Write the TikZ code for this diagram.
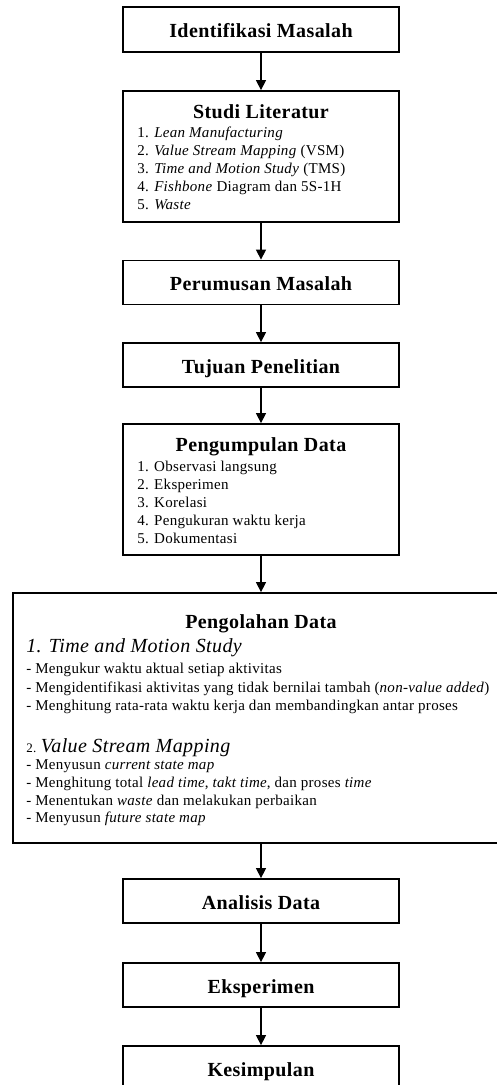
\documentclass[tikz,border=0pt]{standalone}
\usepackage{fontspec}
\setmainfont{Liberation Serif}[LetterSpace=2]
\usetikzlibrary{arrows.meta, positioning, calc}
\tikzset{
  stage/.style={draw, line width=1.8pt, minimum width=276pt, inner sep=0pt,
    font=\fontsize{20}{24}\selectfont\bfseries, text height=16pt, text depth=0pt},
  stagehead/.style={inner sep=0pt, font=\fontsize{20}{24}\selectfont\bfseries},
  stagelist/.style={inner sep=0pt, align=left, font=\fontsize{15}{18}\selectfont},
  flowarrow/.style={-{Triangle[length=10pt,width=10pt]}, line width=1.4pt},
}
\newcommand{\stagebox}[4]{%
  \node[stage, minimum height=#3] (#1) at (261pt,-#2) {#4};}

\begin{document}
\begin{tikzpicture}
  \useasboundingbox (0,0) rectangle (497pt,-1085pt);
  \fill[white] (0,0) rectangle (497pt,-1085pt);
  \clip (0,0) rectangle (497pt,-1085pt);
  \stagebox{idn}{29.5pt}{45pt}{Identifikasi Masalah}
  \stagebox{studi}{156.5pt}{131pt}{}
  \node[stagehead, anchor=base] (studiT) at ([yshift=-28.5pt]studi.north) {Studi Literatur};
  \node[stagelist, anchor=north west] (studiL) at ([xshift=15pt,yshift=-37pt]studi.north west)
    {1. \textit{Lean Manufacturing}\\
     2. \textit{Value Stream Mapping} (VSM)\\
     3. \textit{Time and Motion Study} (TMS)\\
     4. \textit{Fishbone} Diagram dan 5S-1H\\
     5. \textit{Waste}};
  \stagebox{rumus}{282.5pt}{44pt}{Perumusan Masalah}
  \stagebox{tujuan}{365pt}{44pt}{Tujuan Penelitian}
  \stagebox{kumpul}{489.5pt}{131pt}{}
  \node[stagehead, anchor=base] (kumpulT) at ([yshift=-28.5pt]kumpul.north) {Pengumpulan Data};
  \node[stagelist, anchor=north west] (kumpulL) at ([xshift=15pt,yshift=-37.5pt]kumpul.north west)
    {1. Observasi langsung\\
     2. Eksperimen\\
     3. Korelasi\\
     4. Pengukuran waktu kerja\\
     5. Dokumentasi};
  \node[stage, minimum width=496pt, minimum height=250pt] (olah) at (261pt,-718pt) {};
  \node[stagehead, anchor=base] (olahT) at ([yshift=-36pt]olah.north) {Pengolahan Data};
  \node[stagelist, anchor=north west] (olahL) at ([xshift=14pt,yshift=-46.3pt]olah.north west)
    {{\fontsize{20}{20}\selectfont\itshape 1. Time and Motion Study}\\[3pt]
     - Mengukur waktu aktual setiap aktivitas\\[1pt]
     - Mengidentifikasi aktivitas yang tidak bernilai tambah (\textit{non-value added})\\
     - Menghitung rata-rata waktu kerja dan membandingkan antar proses\\[24pt]
     {\fontsize{13}{13}\selectfont 2. }{\fontsize{20}{20}\selectfont\itshape Value Stream Mapping}\\[-1pt]
     - Menyusun \textit{current state map}\\
     - Menghitung total \textit{lead time}, \textit{takt time}, dan proses \textit{time}\\
     - Menentukan \textit{waste} dan melakukan perbaikan\\[-1pt]
     - Menyusun \textit{future state map}};
  \stagebox{analisis}{901pt}{44pt}{Analisis Data}
  \stagebox{eksp}{985pt}{44pt}{Eksperimen}
  \stagebox{simpul}{1068pt}{44pt}{Kesimpulan}
  \draw[flowarrow] (idn) -- (studi);
  \draw[flowarrow] (studi) -- (rumus);
  \draw[flowarrow] (rumus) -- (tujuan);
  \draw[flowarrow] (tujuan) -- (kumpul);
  \draw[flowarrow] (kumpul) -- (olah);
  \draw[flowarrow] (olah) -- (analisis);
  \draw[flowarrow] (analisis) -- (eksp);
  \draw[flowarrow] (eksp) -- (simpul);
\end{tikzpicture}
\end{document}
